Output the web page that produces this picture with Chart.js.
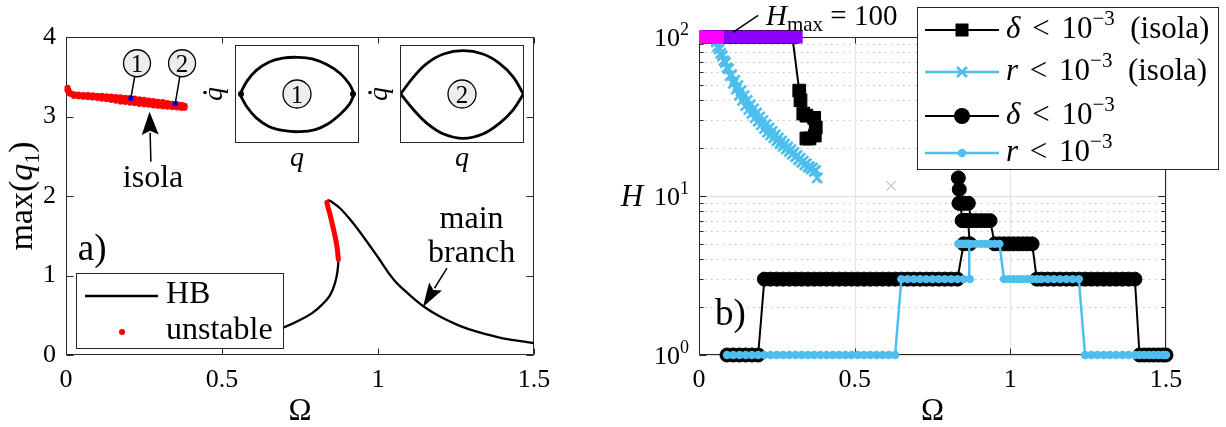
<!DOCTYPE html>
<html><head><meta charset="utf-8">
<script src="https://cdn.jsdelivr.net/npm/chart.js@4.4.0/dist/chart.umd.min.js"></script>
<style>
html,body{margin:0;padding:0;background:#fff;}
#wrap{position:relative;width:1226px;height:427px;overflow:hidden;background:#fff;}
canvas{position:absolute;}
</style></head><body>
<div id="wrap">
<canvas id="cA" width="613" height="427" style="left:0;top:0"></canvas>
<canvas id="cB" width="613" height="427" style="left:613px;top:0"></canvas>
<canvas id="cI1" width="124" height="98" style="left:235px;top:45px"></canvas>
<canvas id="cI2" width="124" height="98" style="left:400px;top:45px"></canvas>
</div>
<script>
// ================= DATA =================
// shared axis ticks
const omegaTicks = [0, 0.5, 1, 1.5];
const omegaTickLabels = ['0', '0.5', '1', '1.5'];

// ---- panel a ----
const maxQTicks = [0, 1, 2, 3, 4];
const maxQTickLabels = ['0', '1', '2', '3', '4'];

const hbOmega = [0.45,0.55,0.65,0.70,0.75,0.79,0.82,0.846,0.862,0.870,0.873,0.869,0.862,0.854,0.846,0.839,0.836,0.840,0.850,0.880,0.920,0.960,1.00,1.05,1.10,1.15,1.20,1.26,1.32,1.40,1.50];
const hbMaxQ  = [0.17,0.21,0.28,0.35,0.44,0.53,0.63,0.75,0.90,1.05,1.20,1.35,1.50,1.64,1.77,1.87,1.92,1.945,1.93,1.84,1.66,1.45,1.23,0.95,0.76,0.60,0.48,0.37,0.29,0.21,0.15];

const unstableOmega = [0.873,0.869,0.862,0.854,0.846,0.839,0.836];
const unstableMaxQ  = [1.20,1.35,1.50,1.64,1.77,1.87,1.92];

const isolaUpperOmega = [0.005,0.008,0.015,0.025,0.04,0.055,0.07,0.085,0.10,0.115,0.13,0.145,0.16,0.175,0.19,0.205,0.22,0.235,0.25,0.265,0.28,0.295,0.31,0.325,0.34,0.355,0.37,0.38];
const isolaUpperMaxQ  = [3.36,3.33,3.29,3.28,3.275,3.27,3.27,3.265,3.26,3.26,3.255,3.25,3.245,3.24,3.235,3.23,3.225,3.215,3.21,3.20,3.195,3.185,3.18,3.17,3.16,3.155,3.145,3.135];
const isolaLowerOmega = [0.005,0.012,0.025,0.04,0.055,0.07,0.085,0.10,0.115,0.13,0.145,0.16,0.175,0.19,0.205,0.22,0.235,0.25,0.265,0.28,0.295,0.31,0.325,0.34,0.355,0.37,0.38];
const isolaLowerMaxQ  = [3.33,3.29,3.26,3.255,3.25,3.245,3.24,3.235,3.225,3.22,3.21,3.20,3.19,3.185,3.175,3.17,3.16,3.155,3.15,3.14,3.135,3.13,3.125,3.12,3.115,3.11,3.11];

const markedOmega = [0.208, 0.35];
const markedMaxQ  = [3.23, 3.16];
const markedLabels = ['1', '2'];

// insets (phase portraits, normalised q / q-dot)
const inset1UpperQ  = [-1.0,-0.88,-0.716,-0.497,-0.251,0.0,0.268,0.541,0.76,0.923,1.0];
const inset1UpperDq = [0.0,0.286,0.524,0.707,0.796,0.816,0.782,0.646,0.456,0.218,0.014];
const inset1LowerQ  = [-1.0,-0.88,-0.716,-0.497,-0.224,0.049,0.322,0.541,0.76,0.923,1.0];
const inset1LowerDq = [-0.02,-0.29,-0.53,-0.72,-0.816,-0.837,-0.79,-0.667,-0.449,-0.224,-0.02];
const inset1EndQ  = [-0.985, 0.985];
const inset1EndDq = [0, 0];
const inset2Q       = [-1.0,-0.785,-0.57,-0.30,0.02,0.34,0.61,0.83,1.0];
const inset2UpperDq = [0.0,0.354,0.626,0.816,0.884,0.816,0.626,0.354,0.0];
const inset2LowerDq = [0.0,-0.327,-0.599,-0.816,-0.905,-0.816,-0.599,-0.327,0.0];

// ---- panel b ----
const hMajorTicks = [1, 10, 100];
const hMajorExp = ['0', '1', '2'];
const hMinorTicks = [2,3,4,5,6,7,8,9,20,30,40,50,60,70,80,90];

// main branch continuation points
const mainOmega = [0.09,0.11,0.13,0.15,0.17,0.19,0.21,0.23,0.25,0.27,0.29,0.31,0.33,0.35,0.37,0.39,0.41,0.43,0.45,0.47,0.49,0.51,0.53,0.55,0.57,0.59,0.61,0.63,0.65,0.67,0.69,0.71,0.73,0.75,0.77,0.79,0.81,0.83,0.85,0.87,
  0.868,0.864,0.860,0.855,0.850,0.845,0.840,0.836,0.833,
  0.835,0.845,0.855,0.865,0.875,0.890,0.905,0.920,0.935,0.950,0.965,0.980,0.995,1.010,1.025,1.040,1.055,1.070,1.085,1.100,
  1.12,1.14,1.16,1.18,1.20,1.22,1.24,1.26,1.28,1.30,1.32,1.34,1.36,1.38,1.40,
  1.415,1.430,1.445,1.460,1.475,1.490,1.500];
const mainHDelta = [1,1,1,1,1,1,3,3,3,3,3,3,3,3,3,3,3,3,3,3,3,3,3,3,3,3,3,3,3,3,3,3,3,3,3,3,3,3,5,5,
  5,7,7,7,7,7,9,11,13,
  9,9,9,9,7,7,7,7,7,5,5,5,5,5,5,5,5,5,3,3,
  3,3,3,3,3,3,3,3,3,3,3,3,3,3,3,
  1,1,1,1,1,1,1];
const mainHR = [1,1,1,1,1,1,1,1,1,1,1,1,1,1,1,1,1,1,1,1,1,1,1,1,1,1,1,1,3,3,3,3,3,3,3,3,3,3,3,3,
  5,5,5,5,5,5,5,5,5,
  5,5,5,5,5,5,5,5,5,5,5,3,3,3,3,3,3,3,3,3,
  3,3,3,3,3,3,1,1,1,1,1,1,1,1,1,
  1,1,1,1,1,1,1];

// isola continuation points
const isolaDeltaOmega = [0.03,0.06,0.09,0.12,0.15,0.18,0.21,0.24,0.27,0.30,0.322,0.326,0.335,0.345,0.370,0.375,0.372,0.355,0.345];
const isolaDeltaH     = [100,100,100,100,100,100,100,100,100,100,46,40,33,32,31,27,24,23,23];
const isolaROmega = [0.025,0.04,0.06,0.07,0.08,0.09,0.10,0.11,0.12,0.13,0.14,0.15,0.16,0.17,0.18,0.19,0.20,0.21,0.22,0.23,0.24,0.25,0.26,0.27,0.28,0.29,0.30,0.31,0.32,0.33,0.34,0.35,0.36,0.37,0.38,
  0.375,0.365,0.355,0.345,0.335,0.325,0.315,0.305,0.295,0.285,0.275,0.265,0.255,0.245,0.235,0.225,0.215,0.205,0.195,0.185,0.175,0.165,0.155,0.145,0.135,0.125,0.115,0.105,0.095,0.085,0.075,0.065,0.055,0.045,0.025];
const isolaRH = [100,100,87,79,71,64,57,51,47,43,40,37,35,33,31,29.5,28,26.5,25.2,24.2,23.2,22.2,21.3,20.5,19.7,19,18.3,17.6,16.9,16.3,15.7,15.2,14.8,14.3,13,
  14.5,15,15.3,16,16.6,17.3,18,18.8,19.6,20.4,21.3,22.2,23.2,24.3,25.5,26.8,28.2,29.8,31.5,33.3,35.3,37.5,40,42.8,46,49.5,53.5,58,63,69,76,84,93,100,100];
const strayOmega = [0.617];
const strayH = [11.6];
const hmaxOmega = [0, 0.333];
const hmaxH = [100, 100];
const hmaxStartOmega = [0, 0.08];
const hmaxStartH = [100, 100];

// ================= HELPERS =================
const FONT = '"Liberation Serif","DejaVu Serif",serif';
const AX = '#262626';
const BLUE = '#4DBEEE';
const f = (s, st) => (st ? st + ' ' : '') + s + 'px ' + FONT;
const pts = (xs, ys) => xs.map((v, i) => ({x: v, y: ys[i]}));

function seg(ctx, x1, y1, x2, y2) { ctx.beginPath(); ctx.moveTo(x1, y1); ctx.lineTo(x2, y2); ctx.stroke(); }
function drawRich(ctx, parts, x, y, align, rot) {
  ctx.save(); ctx.translate(x, y); if (rot) ctx.rotate(rot);
  ctx.textBaseline = 'alphabetic'; ctx.textAlign = 'left'; ctx.fillStyle = '#000';
  let w = 0; for (const p of parts) { ctx.font = p.f; w += ctx.measureText(p.t).width + (p.gap || 0); }
  let cx = align === 'center' ? -w / 2 : align === 'right' ? -w : 0;
  for (const p of parts) { ctx.font = p.f; ctx.fillText(p.t, cx, p.dy || 0); cx += ctx.measureText(p.t).width + (p.gap || 0); }
  ctx.restore();
}
function arrow(ctx, x1, y1, x2, y2, len, hw) {
  const dx = x2 - x1, dy = y2 - y1, d = Math.hypot(dx, dy), ux = dx / d, uy = dy / d;
  const bx = x2 - ux * len, by = y2 - uy * len;
  ctx.strokeStyle = '#000'; ctx.lineWidth = 1.5; seg(ctx, x1, y1, bx + ux * 2, by + uy * 2);
  ctx.fillStyle = '#000'; ctx.beginPath(); ctx.moveTo(x2, y2);
  ctx.lineTo(bx - uy * hw, by + ux * hw); ctx.lineTo(bx + ux * 4, by + uy * 4); ctx.lineTo(bx + uy * hw, by - ux * hw);
  ctx.closePath(); ctx.fill();
}
function circledNum(ctx, cx, cy, r, t) {
  ctx.beginPath(); ctx.arc(cx, cy, r, 0, 2 * Math.PI); ctx.fillStyle = '#ededed'; ctx.fill();
  ctx.lineWidth = 1.3; ctx.strokeStyle = '#000'; ctx.stroke();
  ctx.fillStyle = '#000'; ctx.font = f(25); ctx.textAlign = 'center'; ctx.textBaseline = 'alphabetic';
  ctx.fillText(t, cx, cy + 8.5);
}
function frameAndTicks(chart, xt, ymaj, ymin) {
  const {ctx, chartArea: a, scales: {x, y}} = chart;
  const L = Math.round(a.left) + 0.5, R = Math.round(a.right) - 0.5, T = Math.round(a.top) + 0.5, B = Math.round(a.bottom) - 0.5;
  ctx.save(); ctx.strokeStyle = AX; ctx.lineWidth = 1;
  ctx.strokeRect(L, T, R - L, B - T);
  for (const v of xt) { const p = Math.round(x.getPixelForValue(v)) + 0.5; seg(ctx, p, B, p, B - 6); seg(ctx, p, T, p, T + 6); }
  for (const v of ymaj) { const p = Math.round(y.getPixelForValue(v)) + 0.5; seg(ctx, L, p, L + 7, p); seg(ctx, R, p, R - 7, p); }
  for (const v of (ymin || [])) { const p = Math.round(y.getPixelForValue(v)) + 0.5; seg(ctx, L, p, L + 4, p); seg(ctx, R, p, R - 4, p); }
  ctx.restore();
}
function fixedScale(min, max, ticks, labels, size, type) {
  return {
    type: type || 'linear', min, max,
    afterBuildTicks: s => { s.ticks = ticks.map(v => ({value: v})); },
    ticks: {display: !!labels, font: {family: FONT, size: 26}, color: '#000', autoSkip: false, maxRotation: 0,
      padding: 10, callback: (v, i) => labels ? labels[i] : ''},
    grid: {display: false, drawTicks: false}, border: {display: false},
    afterFit: s => { if (s.isHorizontal()) s.height = size; else s.width = size; }
  };
}

Chart.defaults.font.family = FONT;

// ================= PANEL A =================
const panelAPlugin = {
  id: 'panelA',
  beforeDatasetsDraw(chart) { frameAndTicks(chart, omegaTicks, maxQTicks); },
  afterDatasetsDraw(chart) {
    const {ctx, chartArea: a, scales: {x, y}} = chart;
    const X = v => x.getPixelForValue(v), Y = v => y.getPixelForValue(v);
    ctx.save();
    // circled markers
    const circPos = [[0.2276, 3.67], [0.372, 3.67]];
    markedLabels.forEach((lab, i) => {
      const cx = X(circPos[i][0]), cy = Y(circPos[i][1]);
      const px = X(markedOmega[i]), py = Y(markedMaxQ[i]);
      const dx = px - cx, dy = py - cy, d = Math.hypot(dx, dy);
      ctx.strokeStyle = '#000'; ctx.lineWidth = 1.5;
      seg(ctx, cx + dx / d * 13, cy + dy / d * 13, px, py);
      circledNum(ctx, cx, cy, 13.5, lab);
    });
    // isola annotation
    arrow(ctx, X(0.272), Y(2.43), X(0.268), Y(3.06), 23, 8.5);
    drawRich(ctx, [{t: 'isola', f: f(32)}], X(0.279), Y(2.11), 'center');
    // main branch annotation
    arrow(ctx, X(1.221), Y(1.094), X(1.144), Y(0.604), 24, 7.5);
    drawRich(ctx, [{t: 'main', f: f(32)}], X(1.30), Y(1.60), 'center');
    drawRich(ctx, [{t: 'branch', f: f(32)}], X(1.30), Y(1.17), 'center');
    // a)
    drawRich(ctx, [{t: 'a)', f: f(37)}], X(0.038), Y(1.19), 'left');
    // legend
    ctx.fillStyle = '#fff'; ctx.fillRect(76, 273, 207, 75);
    ctx.strokeStyle = AX; ctx.lineWidth = 1; ctx.strokeRect(76.5, 273.5, 207, 75);
    ctx.strokeStyle = '#000'; ctx.lineWidth = 2.3; seg(ctx, 85, 296, 158, 296);
    drawRich(ctx, [{t: 'HB', f: f(32)}], 166, 303, 'left');
    ctx.fillStyle = '#f00'; ctx.beginPath(); ctx.arc(122, 332, 3, 0, 2 * Math.PI); ctx.fill();
    drawRich(ctx, [{t: 'unstable', f: f(32)}], 166, 339, 'left');
    // inset axis labels
    for (const bx of [235, 400]) {
      ctx.save(); ctx.translate(bx - 13, 94); ctx.rotate(-Math.PI / 2);
      ctx.font = f(28, 'italic'); ctx.fillStyle = '#000'; ctx.textAlign = 'center'; ctx.textBaseline = 'alphabetic';
      ctx.fillText('q', 0, 0);
      ctx.beginPath(); ctx.arc(1.5, -17, 1.8, 0, 2 * Math.PI); ctx.fill();
      ctx.restore();
      drawRich(ctx, [{t: 'q', f: f(28, 'italic')}], bx + 62, 166, 'center');
    }
    // axis titles
    drawRich(ctx, [{t: 'Ω', f: f(31)}], (a.left + a.right) / 2, 420, 'center');
    drawRich(ctx, [{t: 'max(', f: f(34)}, {t: 'q', f: f(34, 'italic')}, {t: '1', f: f(22), dy: 7}, {t: ')', f: f(34)}],
      32, (a.top + a.bottom) / 2, 'center', -Math.PI / 2);
    ctx.restore();
  }
};

new Chart(document.getElementById('cA'), {
  type: 'scatter',
  data: {datasets: [
    {label: 'HB', data: pts(hbOmega, hbMaxQ), showLine: true, borderColor: '#000', borderWidth: 2.3, pointRadius: 0, tension: 0.4, clip: false, order: 3},
    {label: 'unstable', data: pts(unstableOmega, unstableMaxQ), showLine: true, borderColor: '#f00', borderWidth: 5, borderCapStyle: 'round', pointRadius: 0, tension: 0.4, clip: false, order: 2},
    {label: 'isola upper', data: pts(isolaUpperOmega, isolaUpperMaxQ), showLine: false, pointRadius: 3.1, pointBackgroundColor: '#f00', pointBorderWidth: 0, clip: false, order: 1},
    {label: 'isola lower', data: pts(isolaLowerOmega, isolaLowerMaxQ), showLine: false, pointRadius: 3.1, pointBackgroundColor: '#f00', pointBorderWidth: 0, clip: false, order: 1},
    {label: 'marked', data: pts(markedOmega, markedMaxQ), showLine: false, pointRadius: 2.7, pointBackgroundColor: '#0000ff', pointBorderWidth: 0, clip: false, order: 0}
  ]},
  options: {
    responsive: false, animation: false, devicePixelRatio: 1, events: [],
    layout: {padding: {left: 0, right: 79, top: 37, bottom: 0}},
    plugins: {legend: {display: false}, tooltip: {enabled: false}},
    scales: {
      x: fixedScale(0, 1.5, omegaTicks, omegaTickLabels, 72),
      y: fixedScale(0, 4, maxQTicks, maxQTickLabels, 66)
    }
  },
  plugins: [panelAPlugin]
});

// ================= INSETS =================
function insetPlugin(label) {
  return {
    id: 'inset' + label,
    beforeDraw(chart) { const c = chart.ctx; c.save(); c.fillStyle = '#fff'; c.fillRect(0, 0, chart.width, chart.height); c.restore(); },
    afterDatasetsDraw(chart) {
      const c = chart.ctx; c.save();
      c.strokeStyle = AX; c.lineWidth = 1; c.strokeRect(0.5, 0.5, chart.width - 1, chart.height - 1);
      circledNum(c, chart.scales.x.getPixelForValue(0), chart.scales.y.getPixelForValue(0), 14, label);
      c.restore();
    }
  };
}
function insetChart(id, sets, label, xr) {
  new Chart(document.getElementById(id), {
    type: 'scatter',
    data: {datasets: sets},
    options: {
      responsive: false, animation: false, devicePixelRatio: 1, events: [],
      layout: {padding: 0},
      plugins: {legend: {display: false}, tooltip: {enabled: false}},
      scales: {x: {display: false, min: -xr, max: xr}, y: {display: false, min: -1, max: 1}}
    },
    plugins: [insetPlugin(label)]
  });
}
const curve = d => ({data: d, showLine: true, borderColor: '#000', borderWidth: 2.8, pointRadius: 0, tension: 0.4, clip: false});
insetChart('cI1', [
  curve(pts(inset1UpperQ, inset1UpperDq)), curve(pts(inset1LowerQ, inset1LowerDq)),
  {data: pts(inset1EndQ, inset1EndDq), showLine: false, pointRadius: 3, pointBackgroundColor: '#000', pointBorderWidth: 0, clip: false}
], '1', 1.02);
insetChart('cI2', [curve(pts(inset2Q, inset2UpperDq)), curve(pts(inset2Q, inset2LowerDq))], '2', 1.01);

// ================= PANEL B =================
const legendB = [
  {y: 30, color: '#000', lw: 2, marker: 'square', parts: [{t: 'δ', it: 1, gap: 4}, {t: ' < ', gap: 4}, {t: '10'}, {t: '−3', sup: 1}, {t: '  (isola)'}]},
  {y: 72, color: BLUE, lw: 2.5, marker: 'cross', parts: [{t: 'r', it: 1, gap: 4}, {t: ' < ', gap: 4}, {t: '10'}, {t: '−3', sup: 1}, {t: '  (isola)'}]},
  {y: 116, color: '#000', lw: 2, marker: 'circle', parts: [{t: 'δ', it: 1, gap: 4}, {t: ' < ', gap: 4}, {t: '10'}, {t: '−3', sup: 1}]},
  {y: 153, color: BLUE, lw: 2.5, marker: 'dot', parts: [{t: 'r', it: 1, gap: 4}, {t: ' < ', gap: 4}, {t: '10'}, {t: '−3', sup: 1}]}
];
const OFF = 613;
const panelBPlugin = {
  id: 'panelB',
  beforeDatasetsDraw(chart) {
    const {ctx, chartArea: a, scales: {x, y}} = chart;
    ctx.save();
    // minor dotted grid
    ctx.strokeStyle = '#bdbdbd'; ctx.lineWidth = 1; ctx.setLineDash([1.5, 4.5]);
    for (const v of hMinorTicks) { const p = Math.round(y.getPixelForValue(v)) + 0.5; seg(ctx, a.left, p, a.right, p); }
    ctx.setLineDash([]);
    // major grid
    ctx.strokeStyle = '#e2e2e2'; ctx.lineWidth = 1.6;
    for (const v of hMajorTicks) { const p = Math.round(y.getPixelForValue(v)) + 0.5; seg(ctx, a.left, p, a.right, p); }
    ctx.lineWidth = 1.2;
    for (const v of omegaTicks) { const p = Math.round(x.getPixelForValue(v)) + 0.5; seg(ctx, p, a.top, p, a.bottom); }
    ctx.restore();
    frameAndTicks(chart, omegaTicks, hMajorTicks, hMinorTicks);
  },
  afterDatasetsDraw(chart) {
    const {ctx, chartArea: a, scales: {x, y}} = chart;
    const X = v => x.getPixelForValue(v), Y = v => y.getPixelForValue(v);
    ctx.save();
    // y tick labels 10^n
    hMajorTicks.forEach((v, i) => {
      drawRich(ctx, [{t: '10', f: f(26)}, {t: hMajorExp[i], f: f(18), dy: -11}], a.left - 10, Y(v) + 9, 'right');
    });
    // H_max annotation
    ctx.strokeStyle = '#000'; ctx.lineWidth = 1.5; seg(ctx, X(0.109), Y(107), X(0.19), Y(137));
    drawRich(ctx, [{t: 'H', f: f(29, 'italic')}, {t: 'max', f: f(21), dy: 6}, {t: ' = 100', f: f(29)}], X(0.215), Y(119), 'left');
    // b)
    drawRich(ctx, [{t: 'b)', f: f(37)}], X(0.051), Y(1.55), 'left');
    // legend
    const bx = 917 - OFF, by = 7, bw = 301, bh = 162;
    ctx.fillStyle = '#fff'; ctx.fillRect(bx, by, bw, bh);
    ctx.strokeStyle = AX; ctx.lineWidth = 1; ctx.strokeRect(bx + 0.5, by + 0.5, bw, bh);
    for (const e of legendB) {
      ctx.strokeStyle = e.color; ctx.lineWidth = e.lw; seg(ctx, 925 - OFF, e.y, 999 - OFF, e.y);
      const mx = 962 - OFF;
      ctx.fillStyle = e.color;
      if (e.marker === 'square') ctx.fillRect(mx - 6.5, e.y - 6.5, 13, 13);
      else if (e.marker === 'cross') { ctx.lineWidth = 2.6; seg(ctx, mx - 5, e.y - 5, mx + 5, e.y + 5); seg(ctx, mx - 5, e.y + 5, mx + 5, e.y - 5); }
      else { ctx.beginPath(); ctx.arc(mx, e.y, e.marker === 'circle' ? 8 : 4.2, 0, 2 * Math.PI); ctx.fill(); }
      drawRich(ctx, e.parts.map(p => ({t: p.t, gap: p.gap || 0, f: p.sup ? f(21) : f(31, p.it ? 'italic' : ''), dy: p.sup ? -13 : 0})), 1006 - OFF, e.y + 8, 'left');
    }
    // axis titles
    drawRich(ctx, [{t: 'Ω', f: f(31)}], (a.left + a.right) / 2, 420, 'center');
    drawRich(ctx, [{t: 'H', f: f(31, 'italic')}], 632 - OFF, (a.top + a.bottom) / 2 + 10, 'center');
    ctx.restore();
  }
};

new Chart(document.getElementById('cB'), {
  type: 'scatter',
  data: {datasets: [
    {label: 'Hmax start', data: pts(hmaxStartOmega, hmaxStartH), showLine: true, borderColor: '#ff00ff', borderWidth: 13, borderCapStyle: 'butt', pointRadius: 0, clip: false, order: 0},
    {label: 'Hmax', data: pts(hmaxOmega, hmaxH), showLine: true, borderColor: '#8b00ff', borderWidth: 13, borderCapStyle: 'butt', pointRadius: 0, clip: false, order: 1},
    {label: 'r < 1e-3', data: pts(mainOmega, mainHR), showLine: true, borderColor: BLUE, borderWidth: 2.5, pointStyle: 'circle', pointRadius: 4.2, pointBackgroundColor: BLUE, pointBorderWidth: 0, clip: false, order: 2},
    {label: 'delta < 1e-3', data: pts(mainOmega, mainHDelta), showLine: true, borderColor: '#000', borderWidth: 2, pointStyle: 'circle', pointRadius: 7, pointBackgroundColor: '#000', pointBorderColor: '#000', pointBorderWidth: 1, clip: false, order: 3},
    {label: 'r < 1e-3 (isola)', data: pts(isolaROmega, isolaRH), showLine: true, borderColor: BLUE, borderWidth: 2, pointStyle: 'crossRot', pointRadius: 7, pointBorderColor: BLUE, pointBorderWidth: 2.6, clip: false, order: 4},
    {label: 'delta < 1e-3 (isola)', data: pts(isolaDeltaOmega, isolaDeltaH), showLine: true, borderColor: '#000', borderWidth: 2, pointStyle: 'rect', pointRadius: 9, pointBackgroundColor: '#000', pointBorderColor: '#000', pointBorderWidth: 1, clip: false, order: 5},
    {label: 'stray', data: pts(strayOmega, strayH), showLine: false, pointStyle: 'crossRot', pointRadius: 6.5, pointBorderColor: '#c4c4c4', pointBorderWidth: 1.2, clip: false, order: 6}
  ]},
  options: {
    responsive: false, animation: false, devicePixelRatio: 1, events: [],
    layout: {padding: {left: 0, right: 60, top: 37, bottom: 0}},
    plugins: {legend: {display: false}, tooltip: {enabled: false}},
    scales: {
      x: fixedScale(0, 1.5, omegaTicks, omegaTickLabels, 72),
      y: fixedScale(1, 100, hMajorTicks, null, 86, 'logarithmic')
    }
  },
  plugins: [panelBPlugin]
});
</script>
</body></html>
